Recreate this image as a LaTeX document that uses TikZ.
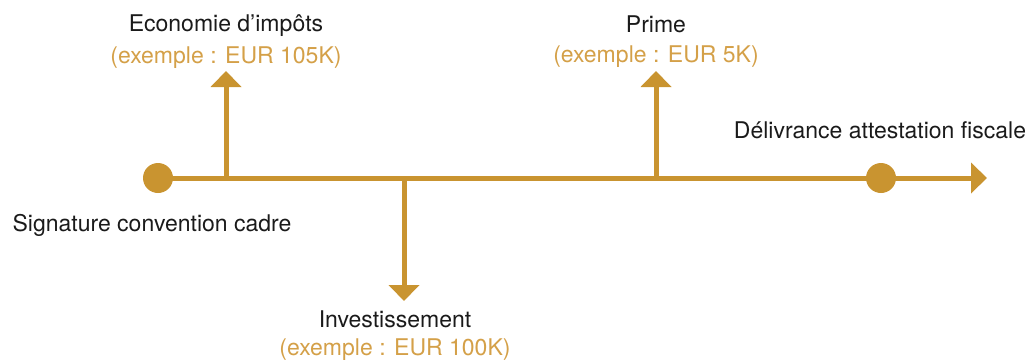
\documentclass[tikz,border=0pt]{standalone}
\usepackage{fontspec}
\setmainfont{TeX Gyre Heros}
\usetikzlibrary{arrows.meta}
\definecolor{gold}{RGB}{201,148,48}
\definecolor{goldtxt}{RGB}{212,160,72}
\definecolor{ink}{RGB}{26,26,26}
\begin{document}
\begin{tikzpicture}[x=1pt,y=-1pt,
  lbl/.style={anchor=base,inner sep=0pt,text=ink,font=\fontsize{23}{28}\selectfont},
  sub/.style={anchor=base,inner sep=0pt,text=goldtxt,font=\fontsize{23}{28}\selectfont},
  dot/.style={circle,fill=gold,minimum size=30pt,inner sep=0pt},
  axis/.style={draw=gold,line width=5pt,-{Triangle[width=30pt,length=16pt]}}]
\useasboundingbox (0,0) rectangle (1027,359);
% dots
\node[dot] (start) at (158,178) {};
\node[dot] (end) at (881,178) {};
\coordinate (tip) at (987,178);
\coordinate (b1) at (226,178);
\coordinate (t1) at (226,71);
\coordinate (b2) at (404,178);
\coordinate (t2) at (404,301);
\coordinate (b3) at (656,178);
\coordinate (t3) at (656,71);
% axis
\draw[axis] (start.center) -- (tip);
\draw[axis] (b1) -- (t1);
\draw[axis] (b2) -- (t2);
\draw[axis] (b3) -- (t3);
% labels
\node[lbl] (eco) at (226,31) {Economie d’impôts};
\node[sub] (ecox) at (226,63) {(exemple : EUR 105K)};
\node[lbl] (prime) at (656,32) {Prime};
\node[sub] (primex) at (656,62) {(exemple : EUR 5K)};
\node[lbl] (deliv) at (880,138) {Délivrance attestation fiscale};
\node[lbl] (sign) at (152,231) {Signature convention cadre};
\node[lbl] (inv) at (395,327) {Investissement};
\node[sub] (invx) at (395,355) {(exemple : EUR 100K)};
\end{tikzpicture}
\end{document}
